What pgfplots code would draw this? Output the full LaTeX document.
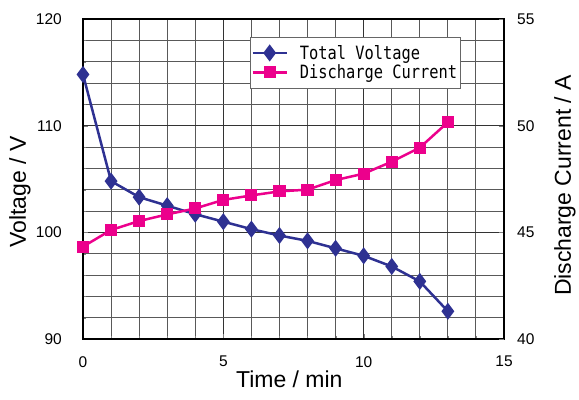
\documentclass[border=0pt]{standalone}
\usepackage{pgfplots}
\pgfplotsset{compat=1.18}
\usepackage{fontspec}
\setmainfont{Liberation Sans}
\newfontfamily\legfont{DejaVu Sans Mono}
\definecolor{volt}{RGB}{46,49,146}
\definecolor{curr}{RGB}{236,0,140}
\newcommand{\leg}[1]{\scalebox{0.84}[1]{#1}\hspace{14bp}}
\pgfplotsset{
  base/.style={
    scale only axis, width=421bp, height=320bp,
    xmin=0, xmax=15,
    /pgf/number format/assume math mode=true,
    tick label style={font=\fontsize{15.5bp}{18bp}\selectfont},
    label style={font=\fontsize{23bp}{27bp}\selectfont},
    tick align=inside, major tick length=5bp,
    axis line style={line width=1.2bp},
  }
}
\begin{document}
\begin{tikzpicture}
\useasboundingbox (-83bp,-61bp) rectangle (496bp,339bp);
\begin{axis}[
  base,
  ymin=90, ymax=120,
  xtick={0,5,10,15}, minor xtick={0,1,...,15},
  ytick={90,100,110,120}, minor ytick={90,92,...,120},
  grid=both,
  major grid style={black!80, line width=0.9bp},
  minor grid style={black!65, line width=0.9bp},
  ytick pos=left, xtick pos=bottom,
  xticklabel style={anchor=north, inner sep=0pt, yshift=-17bp},
  yticklabel style={anchor=east, inner sep=0pt, xshift=-21bp},
  xlabel={Time / min},
  ylabel={Voltage / V},
  xlabel style={at={(axis description cs:0.49,-0.153)}, anchor=base},
  ylabel style={at={(axis description cs:-0.15,0.46)}, anchor=center},
]
\addplot[volt, line width=2.5bp, mark=diamond*, mark size=6.5bp] coordinates {
  (0,114.8) (1,104.8) (2,103.3) (3,102.5) (4,101.7) (5,101.0) (6,100.3)
  (7,99.7) (8,99.2) (9,98.5) (10,97.8) (11,96.8) (12,95.4) (13,92.6)
};
\end{axis}
\begin{axis}[
  base,
  ymin=40, ymax=55,
  axis x line=none, axis y line*=right,
  ytick={40,45,50,55},
  yticklabel style={anchor=west, inner sep=0pt, xshift=13bp},
  ylabel={Discharge Current / A},
  ylabel style={at={(axis description cs:1.145,0.48)}, anchor=center},
  legend style={at={(rel axis cs:0.397,0.944)}, anchor=north west,
    draw=black!60, line width=0.6bp, inner xsep=1bp, inner ysep=6bp,
    font=\legfont\fontsize{18.3bp}{22bp}\selectfont, cells={anchor=west},
    row sep=0bp, /tikz/every odd column/.append style={column sep=10bp}},
  legend image code/.code={
    \draw[mark repeat=2, mark phase=2, #1] plot coordinates {(0bp,0bp) (17bp,0bp) (34bp,0bp)};},
]
\addlegendimage{volt, line width=2.5bp, mark=diamond*, mark size=6.5bp}
\addlegendentry{\leg{Total Voltage}}
\addplot[curr, line width=2.5bp, mark=square*, mark size=4.8bp] coordinates {
  (0,44.33) (1,45.11) (2,45.53) (3,45.84) (4,46.12) (5,46.52) (6,46.73)
  (7,46.92) (8,47.0) (9,47.45) (10,47.75) (11,48.31) (12,48.97) (13,50.16)
};
\addlegendentry{\leg{Discharge Current}}
\end{axis}
\end{tikzpicture}
\end{document}
